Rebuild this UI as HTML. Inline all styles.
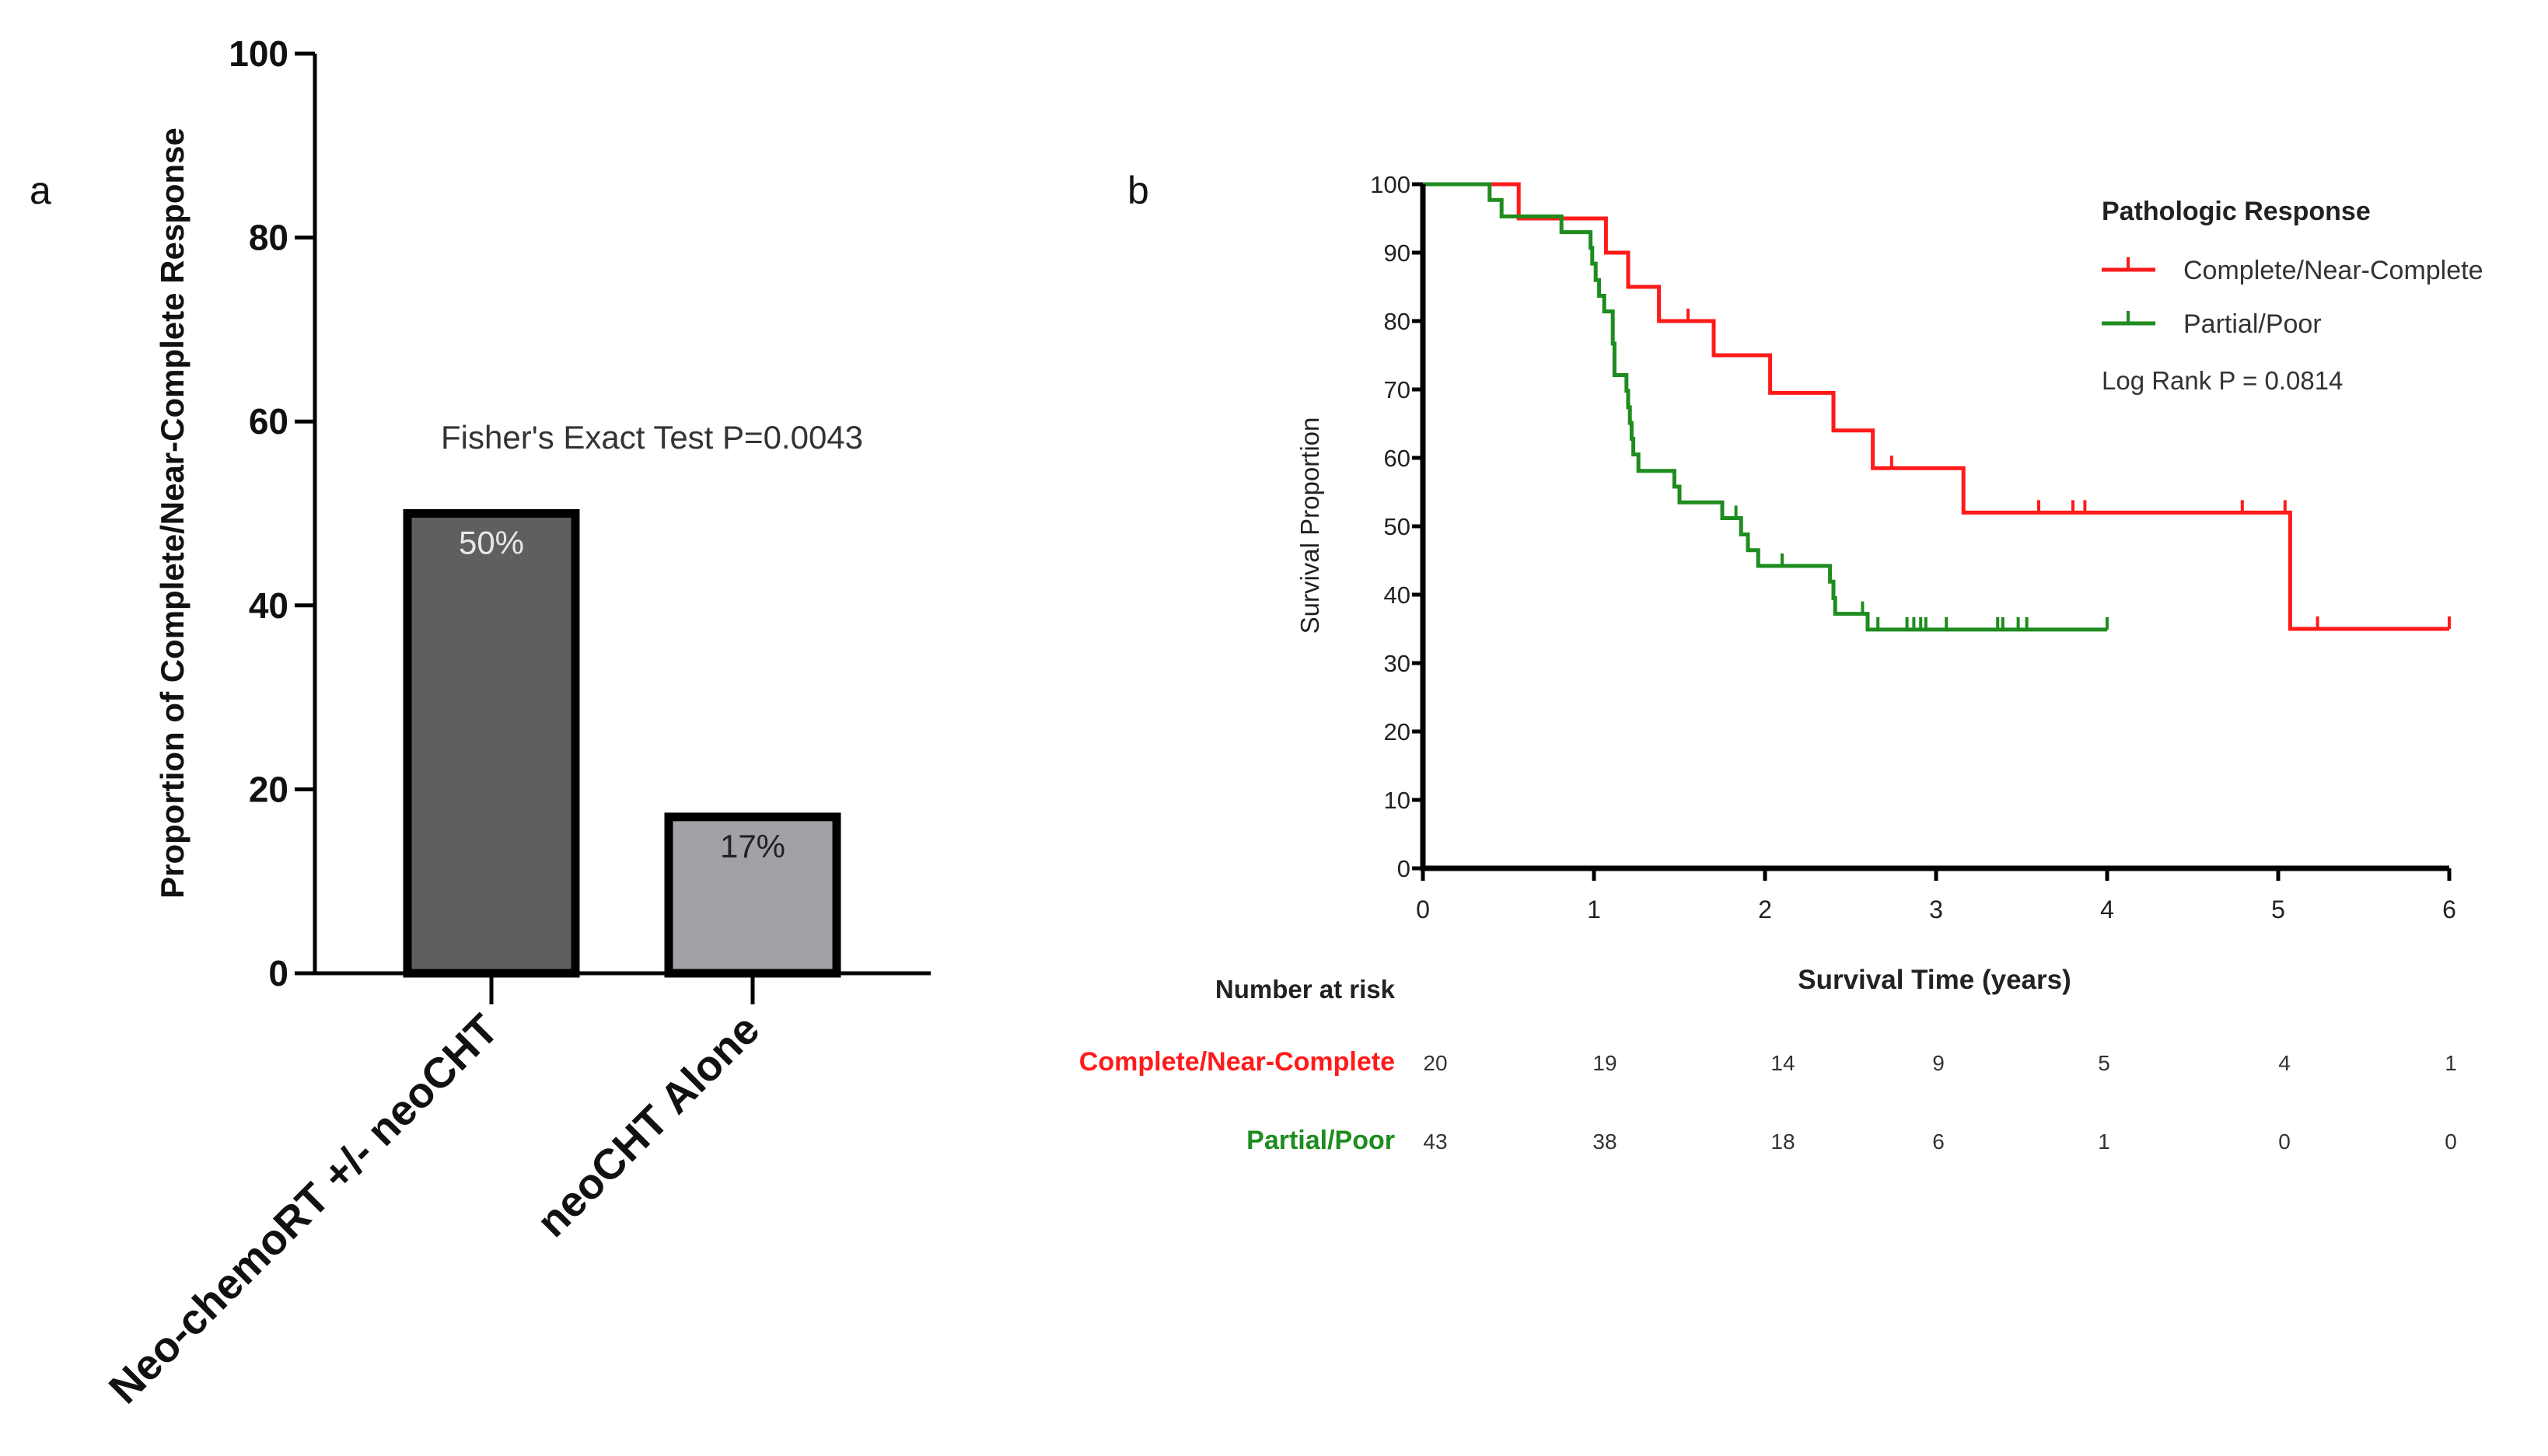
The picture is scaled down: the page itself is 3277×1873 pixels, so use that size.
<!DOCTYPE html>
<html><head><meta charset="utf-8"><style>
html,body{margin:0;padding:0;background:#fff}
svg{display:block;font-family:"Liberation Sans",sans-serif}
</style></head><body>
<svg id="fig" width="3277" height="1873" viewBox="0 0 3277 1873">
<g id="panelA"></g>
<g id="panelB"></g>
</svg>
<script>
const NS="http://www.w3.org/2000/svg";
function mk(parent,tag,attrs,text){const e=document.createElementNS(NS,tag);for(const k in attrs)e.setAttribute(k,attrs[k]);if(text!==undefined)e.textContent=text;parent.appendChild(e);return e;}

// ---------- Panel A data ----------
const barCategories=["Neo-chemoRT +/- neoCHT","neoCHT Alone"];
const barValues=[50,17];
const barLabels=["50%","17%"];
const barFills=["#5f5f5f","#a2a2a6"];
const yTicksA=[0,20,40,60,80,100];

// ---------- Panel B data ----------
const xTicksB=[0,1,2,3,4,5,6];
const yTicksB=[0,10,20,30,40,50,60,70,80,90,100];
const redTimes=[0.56,1.07,1.20,1.38,1.70,2.03,2.40,2.63,3.16,5.07];
const redSurv=[95,90,85,80,75,69.5,64,58.5,52,35];
const redEnd=6;
const redCensorT=[1.55,2.74,3.6,3.8,3.87,4.79,5.04,5.23,6];
const greenTimes=[0.39,0.46,0.81,0.98,0.99,1.01,1.03,1.06,1.11,1.12,1.19,1.20,1.21,1.22,1.23,1.26,1.47,1.50,1.75,1.86,1.90,1.96,2.38,2.40,2.41,2.60];
const greenSurv=[97.7,95.3,93.0,90.7,88.4,86.0,83.7,81.4,76.7,72.1,69.8,67.4,65.1,62.8,60.5,58.1,55.8,53.5,51.2,48.8,46.5,44.2,41.9,39.5,37.2,34.9];
const greenEnd=4;
const greenCensorT=[1.83,2.1,2.57,2.66,2.83,2.87,2.91,2.94,3.06,3.36,3.39,3.48,3.53,4];
const riskRed=[20,19,14,9,5,4,1];
const riskGreen=[43,38,18,6,1,0,0];

// ---------- Panel A ----------
(function(){
const g=document.getElementById('panelA');
const x0=405,x1=1197,yTop=69,yBot=1252;
const ys=v=>yBot-(v/100)*(yBot-yTop);
const t=mk(g,'text',{x:38,y:262,'font-size':50,fill:'#111'},'a');

const centers=[632,968],bw=216;
barValues.forEach((v,i)=>{
 const r=mk(g,'rect',{x:centers[i]-bw/2,y:ys(v),width:bw,height:yBot-ys(v),fill:barFills[i],stroke:'#000','stroke-width':11});
 
 const l=mk(g,'text',{x:centers[i],y:ys(v)+52,'font-size':42,'text-anchor':'middle',fill:i==0?'#e8e8e8':'#222'},barLabels[i]);
 
});
const ax=mk(g,'path',{d:`M${x0},${yTop} V${yBot} H${x1}`,fill:'none',stroke:'#000','stroke-width':5});

yTicksA.forEach(v=>{
 mk(g,'line',{x1:x0-26,x2:x0,y1:ys(v),y2:ys(v),stroke:'#000','stroke-width':5});
 const tl=mk(g,'text',{x:x0-34,y:ys(v)+16,'font-size':46,'font-weight':'bold','text-anchor':'end',fill:'#111'},v);
 
});
barCategories.forEach((c,i)=>{
 mk(g,'line',{x1:centers[i],x2:centers[i],y1:yBot,y2:yBot+40,stroke:'#000','stroke-width':5});
 const cx=centers[i]+12,cy=yBot+76;
 const tl=mk(g,'text',{x:cx,y:cy,'font-size':55,'font-weight':'bold','text-anchor':'end',fill:'#111',transform:`rotate(-45 ${cx} ${cy})`},c);
 
});
const yt=mk(g,'text',{x:236,y:660,'font-size':42,'font-weight':'bold','text-anchor':'middle',fill:'#111',transform:'rotate(-90 236 660)'},'Proportion of  Complete/Near-Complete Response');

const ft=mk(g,'text',{x:567,y:577,'font-size':42,fill:'#333'},"Fisher's Exact Test P=0.0043");

})();

// ---------- Panel B ----------
(function(){
const g=document.getElementById('panelB');
const x0=1830,x6=3150,yTop=237,yBot=1117;
const xs=t=>x0+(t/6)*(x6-x0);
const ys=v=>yBot-(v/100)*(yBot-yTop);
const bl=mk(g,'text',{x:1450,y:262,'font-size':50,fill:'#111'},'b');

function curve(times,surv,end,color,name){
 let d=`M${xs(0)},${ys(100)}`;
 times.forEach((t,i)=>{d+=` H${xs(t)} V${ys(surv[i])}`;});
 d+=` H${xs(end)}`;
 const p=mk(g,'path',{d:d,fill:'none',stroke:color,'stroke-width':5});
 
}
function survAt(times,surv,t){let s=100;times.forEach((tt,i)=>{if(tt<=t)s=surv[i];});return s;}
function censors(ct,times,surv,color,name){
 ct.forEach(t=>{const s=survAt(times,surv,t);
  const c=mk(g,'line',{x1:xs(t),x2:xs(t),y1:ys(s),y2:ys(s)-16,stroke:color,'stroke-width':4});
  });
}
curve(redTimes,redSurv,redEnd,'#ff1a1a','km-curve-complete');
curve(greenTimes,greenSurv,greenEnd,'#1e8c1e','km-curve-partial');
censors(redCensorT,redTimes,redSurv,'#ff1a1a','censor-mark-complete');
censors(greenCensorT,greenTimes,greenSurv,'#1e8c1e','censor-mark-partial');
const ax=mk(g,'path',{d:`M${x0},${yTop} V${yBot} H${x6}`,fill:'none',stroke:'#000','stroke-width':7});

yTicksB.forEach(v=>{
 mk(g,'line',{x1:x0-14,x2:x0,y1:ys(v),y2:ys(v),stroke:'#000','stroke-width':5});
 const tl=mk(g,'text',{x:x0-16,y:ys(v)+11,'font-size':31,'text-anchor':'end',fill:'#222'},v);
 
});
xTicksB.forEach(v=>{
 mk(g,'line',{x1:xs(v),x2:xs(v),y1:yBot,y2:yBot+16,stroke:'#000','stroke-width':5});
 const tl=mk(g,'text',{x:xs(v),y:yBot+64,'font-size':32,'text-anchor':'middle',fill:'#222'},v);
 
});
const xt=mk(g,'text',{x:2488,y:1272,'font-size':35,'font-weight':'bold','text-anchor':'middle',fill:'#222'},'Survival Time (years)');

const yt=mk(g,'text',{x:1696,y:676,'font-size':33,'text-anchor':'middle',fill:'#222',transform:'rotate(-90 1696 676)'},'Survival Proportion');

const lt=mk(g,'text',{x:2703,y:283,'font-size':34,'font-weight':'bold',fill:'#222'},'Pathologic Response');

[['Complete/Near-Complete','#ff1a1a',347],['Partial/Poor','#1e8c1e',416]].forEach(([n,c,y])=>{
 const le=mk(g,'g',{});
 
 mk(le,'line',{x1:2703,x2:2772,y1:y,y2:y,stroke:c,'stroke-width':5});
 mk(le,'line',{x1:2737,x2:2737,y1:y,y2:y-16,stroke:c,'stroke-width':4});
 mk(le,'text',{x:2808,y:y+12,'font-size':34,fill:'#333'},n);
});
const lr=mk(g,'text',{x:2703,y:501,'font-size':33,fill:'#333'},'Log Rank P = 0.0814');

const nr=mk(g,'text',{x:1794,y:1284,'font-size':33,'font-weight':'bold','text-anchor':'end',fill:'#222'},'Number at risk');

const riskX=[1846,2064,2293,2493,2706,2938,3152];
[[riskRed,'Complete/Near-Complete','#ff1a1a',1377],[riskGreen,'Partial/Poor','#1e8c1e',1478]].forEach(([arr,n,c,y])=>{
 const l=mk(g,'text',{x:1794,y:y,'font-size':34,'font-weight':'bold','text-anchor':'end',fill:c},n);
 
 arr.forEach((v,i)=>{
  const tv=mk(g,'text',{x:riskX[i],y:y,'font-size':28,'text-anchor':'middle',fill:'#333'},v);
  
 });
});
})();
</script>
</body></html>
